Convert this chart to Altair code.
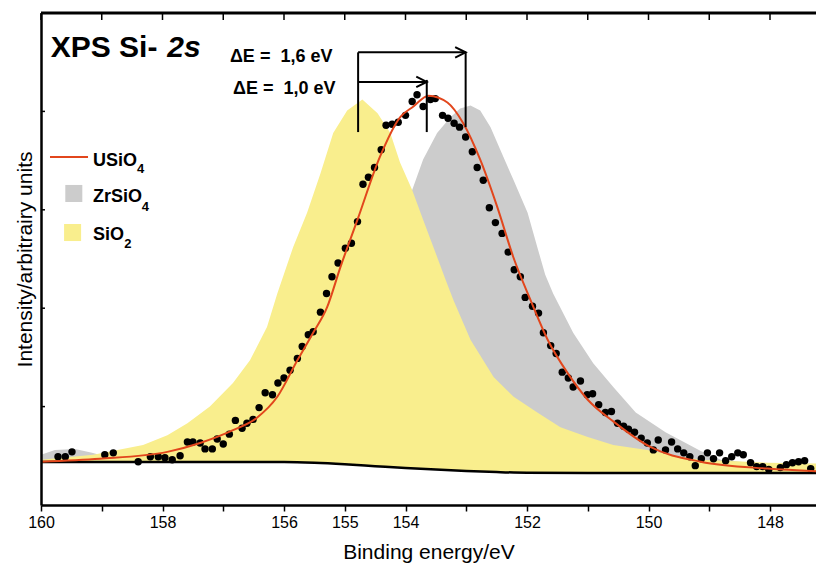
import altair as alt
import pandas as pd

# ---------------- data ----------------
dot_energy = [159.72, 159.60, 159.49, 158.95, 158.81, 158.40, 158.20, 158.07, 157.96, 157.84,
              157.71, 157.59, 157.50, 157.38, 157.30, 157.18, 157.10, 157.00, 156.90, 156.80,
              156.69, 156.61, 156.51, 156.41, 156.31, 156.19, 156.10, 156.00, 155.90, 155.78,
              155.70, 155.60, 155.52, 155.40, 155.30, 155.21, 155.11, 154.99, 154.89, 154.79,
              154.70, 154.61, 154.51, 154.40, 154.32, 154.22, 154.12, 154.00, 153.89, 153.81,
              153.71, 153.59, 153.51, 153.39, 153.30, 153.20, 153.11, 153.01, 152.90, 152.82,
              152.72, 152.62, 152.52, 152.41, 152.31, 152.21, 152.11, 152.03, 151.91, 151.81,
              151.73, 151.61, 151.52, 151.42, 151.32, 151.24, 151.12, 151.01, 150.92, 150.82,
              150.71, 150.61, 150.51, 150.41, 150.33, 150.23, 150.12, 150.02, 149.92, 149.84,
              149.72, 149.62, 149.52, 149.42, 149.32, 149.23, 149.13, 149.03, 148.93, 148.83,
              148.73, 148.63, 148.53, 148.44, 148.32, 148.22, 148.12, 148.02, 147.83, 147.73,
              147.63, 147.53, 147.43, 147.33]
dot_intensity = [0.49, 0.49, 0.54, 0.51, 0.53, 0.44, 0.49, 0.49, 0.48, 0.46,
                 0.50, 0.64, 0.64, 0.63, 0.57, 0.57, 0.67, 0.62, 0.72, 0.86,
                 0.78, 0.83, 0.87, 0.99, 1.14, 1.12, 1.24, 1.29, 1.37, 1.49,
                 1.61, 1.73, 1.76, 1.96, 2.15, 2.32, 2.46, 2.61, 2.66, 2.88,
                 3.26, 3.33, 3.43, 3.61, 3.86, 3.87, 3.89, 3.96, 4.10, 4.17,
                 4.05, 4.12, 4.13, 3.96, 3.93, 3.88, 3.84, 3.74, 3.59, 3.43,
                 3.30, 3.02, 2.87, 2.76, 2.57, 2.39, 2.32, 2.11, 2.02, 1.95,
                 1.75, 1.62, 1.54, 1.35, 1.29, 1.20, 1.26, 1.12, 1.13, 1.02,
                 0.94, 0.95, 0.83, 0.80, 0.77, 0.74, 0.68, 0.63, 0.56, 0.66,
                 0.56, 0.64, 0.57, 0.53, 0.49, 0.40, 0.47, 0.53, 0.47, 0.53,
                 0.45, 0.49, 0.53, 0.51, 0.43, 0.39, 0.39, 0.36, 0.38, 0.41,
                 0.43, 0.44, 0.45, 0.37]

fit_energy = [160.00, 159.03, 157.92, 157.38, 156.84, 156.44, 156.11, 155.78, 155.52, 155.29,
              155.07, 154.79, 154.42, 154.09, 153.87, 153.62, 153.31, 153.05, 152.77, 152.49,
              152.22, 151.94, 151.66, 151.33, 151.00, 150.58, 149.97, 149.14, 148.04, 147.10]
fit_intensity = [0.44, 0.47, 0.54, 0.63, 0.76, 0.89, 1.10, 1.47, 1.75, 2.01,
                 2.42, 2.90, 3.54, 3.94, 4.05, 4.16, 4.09, 3.88, 3.51, 3.03,
                 2.51, 2.08, 1.68, 1.34, 1.07, 0.85, 0.59, 0.44, 0.37, 0.34]

sio2_energy = [160.00, 159.14, 158.32, 157.92, 157.59, 157.22, 156.84, 156.56, 156.28, 156.11,
               155.85, 155.62, 155.40, 155.19, 154.96, 154.71, 154.46, 154.25, 154.09, 153.89,
               153.71, 153.54, 153.34, 153.21, 152.93, 152.55, 152.22, 151.83, 151.45, 151.00,
               150.58, 150.02, 149.47, 149.14, 148.04, 147.10]
sio2_intensity = [0.46, 0.51, 0.61, 0.71, 0.83, 1.00, 1.24, 1.47, 1.81, 2.15,
                  2.62, 2.97, 3.37, 3.78, 4.01, 4.12, 3.98, 3.78, 3.48, 3.20,
                  2.90, 2.62, 2.29, 2.08, 1.68, 1.30, 1.10, 0.94, 0.79, 0.69,
                  0.61, 0.56, 0.49, 0.46, 0.43, 0.42]

zrsio4_energy = [160.00, 159.77, 159.44, 159.16, 158.86, 158.20, 157.38, 156.56, 155.73, 155.07,
                 154.58, 154.25, 154.09, 153.89, 153.71, 153.48, 153.26, 153.10, 152.93, 152.77,
                 152.60, 152.44, 152.22, 151.99, 151.83, 151.70, 151.57, 151.24, 150.91, 150.58,
                 150.21, 149.72, 149.14, 148.81, 148.04, 147.10]
zrsio4_intensity = [0.51, 0.56, 0.57, 0.53, 0.48, 0.48, 0.51, 0.56, 0.66, 0.86,
                    1.27, 2.08, 2.69, 3.20, 3.51, 3.78, 3.94, 4.03, 4.06, 4.01,
                    3.84, 3.61, 3.30, 2.97, 2.62, 2.34, 2.15, 1.75, 1.44, 1.20,
                    0.94, 0.74, 0.55, 0.46, 0.41, 0.40]

bg_energy = [160.0, 156.0, 155.5, 155.0, 154.5, 154.0, 153.5, 153.0, 152.5, 152.0, 151.0, 147.1]
bg_intensity = [0.437, 0.437, 0.43, 0.415, 0.395, 0.375, 0.36, 0.345, 0.335, 0.328, 0.325, 0.325]

x_tick_values = [148, 149, 150, 151, 152, 153, 154, 155, 156, 157, 158, 159, 160]
x_unlabelled = [149, 151, 153, 157, 159]
y_tick_values = [1, 2, 3, 4]

# annotation arrows (peak positions in eV, heights in a.u.)
peak_sio2 = 154.78
peak_usio4 = 153.65
peak_zrsio4 = 153.01

legend_names = ["USiO", "ZrSiO", "SiO"]
legend_subs = ["4", "4", "2"]

# ---------------- styling ----------------
FONT = "Liberation Sans"
YELLOW = "#F9EE8D"
GRAY = "#CCCCCC"
RED = "#E2461C"

PX_PER_EV = 60.75
W = 775
H = 492
X0, X1 = 160.0, 160.0 - W / PX_PER_EV

xs = alt.Scale(domain=[X0, X1], nice=False, zero=False)
ys = alt.Scale(domain=[0, 5], nice=False, zero=False)

bottom_axis = alt.Axis(
    values=x_tick_values,
    labelExpr="indexof([" + ",".join(str(v) for v in x_unlabelled) + "], datum.value) >= 0 ? '' : datum.label",
    grid=False, domainColor="black", domainWidth=2.5, tickColor="black", tickWidth=1.5,
    tickSize=6, labelFont=FONT, labelFontSize=16, labelColor="black", labelPadding=3,
    labelFlush=False, title="Binding energy/eV", titleFont=FONT, titleFontSize=21,
    titleFontWeight="normal", titleColor="black", titlePadding=11, zindex=1,
)
left_axis = alt.Axis(
    labels=False, ticks=False, grid=False, domainColor="black", domainWidth=2.5,
    title="Intensity/arbitrairy units", titleFont=FONT, titleFontSize=21,
    titleFontWeight="normal", titleColor="black", titlePadding=6, zindex=1,
)


def X(field):
    return alt.X(field, type="quantitative", scale=xs, axis=bottom_axis)


def Y(field):
    return alt.Y(field, type="quantitative", scale=ys, axis=left_axis)


dots_df = pd.DataFrame({"e": dot_energy, "i": dot_intensity})
fit_df = pd.DataFrame({"e": fit_energy, "i": fit_intensity})
sio2_df = pd.DataFrame({"e": sio2_energy, "i": sio2_intensity})
zr_df = pd.DataFrame({"e": zrsio4_energy, "i": zrsio4_intensity})
bg_df = pd.DataFrame({"e": bg_energy, "i": bg_intensity})

zr_area = alt.Chart(zr_df).mark_area(color=GRAY, opacity=1, clip=True).encode(
    x=X("e"), y=Y("i"))
sio2_area = alt.Chart(sio2_df).mark_area(color=YELLOW, opacity=1, clip=True).encode(
    x=X("e"), y=Y("i"))
mask = alt.Chart(bg_df).mark_area(color="white", opacity=1, clip=True,
                                  interpolate="monotone").encode(x=X("e"), y=Y("i"))
bg_line = alt.Chart(bg_df).mark_line(color="black", strokeWidth=2.5, clip=True,
                                     interpolate="monotone").encode(x=X("e"), y=Y("i"))
dots = alt.Chart(dots_df).mark_circle(color="black", size=55, opacity=1, clip=True).encode(
    x=X("e"), y=Y("i"))
fit_line = alt.Chart(fit_df).mark_line(color=RED, strokeWidth=2, clip=True,
                                       interpolate="monotone").encode(x=X("e"), y=Y("i"))

# frame: top border + inward ticks
top_border = alt.Chart(pd.DataFrame({"k": [0]})).mark_rule(color="black", strokeWidth=3).encode(
    y=alt.value(0)
)
top_ticks = alt.Chart(pd.DataFrame({"t": x_tick_values})).mark_rule(
    color="black", strokeWidth=1.5).encode(x=X("t"), y=alt.value(0), y2=alt.value(7))
left_ticks = alt.Chart(pd.DataFrame({"t": y_tick_values})).mark_rule(
    color="black", strokeWidth=1.5).encode(y=Y("t"), x=alt.value(0), x2=alt.value(4))

# arrows
seg_df = pd.DataFrame({
    "x": [peak_sio2, peak_sio2, peak_zrsio4, peak_sio2, peak_usio4],
    "x2": [peak_sio2, peak_zrsio4, peak_zrsio4, peak_usio4, peak_usio4],
    "y": [3.79, 4.60, 4.60, 4.30, 4.32],
    "y2": [4.60, 4.60, 3.84, 4.30, 3.79],
})
segs = alt.Chart(seg_df).mark_rule(color="black", strokeWidth=2).encode(
    x=X("x"), x2="x2:Q", y=Y("y"), y2="y2:Q")
head_df = pd.DataFrame({"x": [peak_zrsio4, peak_usio4], "y": [4.60, 4.30]})
heads = alt.Chart(head_df).mark_point(
    shape="M -1 -0.5 L 0 0 L -1 0.5", filled=False, strokeWidth=2, size=440,
    color="black", opacity=1).encode(x=X("x"), y=Y("y"))
NB = "\u00a0"
de_df = pd.DataFrame({"x": [156.89, 156.84], "y": [4.50, 4.18],
                      "t": ["\u0394E =" + NB + NB + "1,6 eV", "\u0394E =" + NB + NB + "1,0 eV"]})
de_text = alt.Chart(de_df).mark_text(
    align="left", baseline="alphabetic", font=FONT, fontSize=18, fontWeight="bold",
    color="black").encode(x=X("x"), y=Y("y"), text="t:N")

# panel title
title_df = pd.DataFrame({"x": [159.84, 157.92], "y": [4.55, 4.55], "t": ["XPS Si-", "2s"]})
title_a = alt.Chart(title_df.iloc[[0]]).mark_text(
    align="left", baseline="alphabetic", font=FONT, fontSize=30, fontWeight="bold",
    color="black").encode(x=X("x"), y=Y("y"), text="t:N")
title_b = alt.Chart(title_df.iloc[[1]]).mark_text(
    align="left", baseline="alphabetic", font=FONT, fontSize=30, fontWeight="bold",
    fontStyle="italic", color="black").encode(x=X("x"), y=Y("y"), text="t:N")

# legend
leg_line = alt.Chart(pd.DataFrame({"x": [159.852], "x2": [159.226], "y": [3.537]})).mark_rule(
    color=RED, strokeWidth=2).encode(x=X("x"), x2="x2:Q", y=Y("y"))
leg_sq = alt.Chart(pd.DataFrame({"x": [159.46, 159.48], "y": [3.166, 2.769],
                                 "c": [GRAY, YELLOW]})).mark_square(
    size=290, opacity=1).encode(x=X("x"), y=Y("y"), color=alt.Color("c:N", scale=None))
leg_txt = alt.Chart(pd.DataFrame({"x": [159.144, 159.144, 159.144], "y": [3.445, 3.079, 2.693],
                                  "t": legend_names})).mark_text(
    align="left", baseline="alphabetic", font=FONT, fontSize=18, fontWeight="bold",
    color="black").encode(x=X("x"), y=Y("y"), text="t:N")
leg_sub = alt.Chart(pd.DataFrame({"x": [158.42, 158.34, 158.63], "y": [3.374, 2.988, 2.612],
                                  "t": legend_subs})).mark_text(
    align="left", baseline="alphabetic", font=FONT, fontSize=13, fontWeight="bold",
    color="black").encode(x=X("x"), y=Y("y"), text="t:N")

chart = alt.layer(
    zr_area, sio2_area, mask, bg_line, dots, fit_line,
    top_border, top_ticks, left_ticks,
    segs, heads, de_text, title_a, title_b,
    leg_line, leg_sq, leg_txt, leg_sub,
).properties(
    width=W, height=H,
    autosize=alt.AutoSizeParams(type="none"),
    padding={"left": 33, "top": 5, "right": 0, "bottom": 62},
).configure_view(stroke=None).configure(background="white")

chart.save("out.html", embed_options={"renderer": "svg", "actions": False})
